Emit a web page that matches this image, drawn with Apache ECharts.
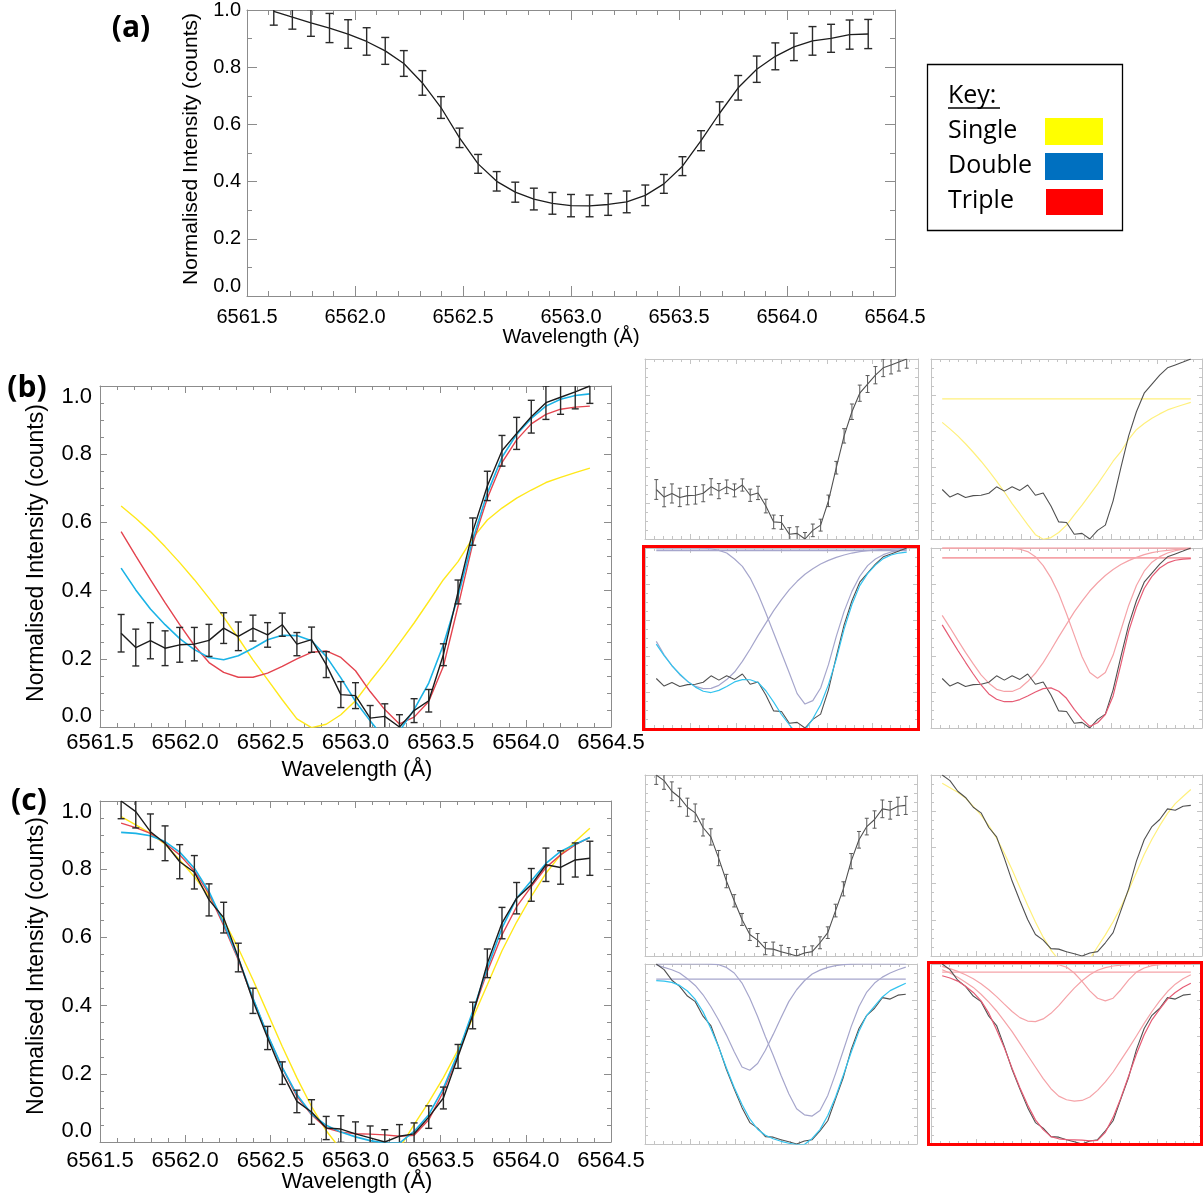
<!DOCTYPE html>
<html><head><meta charset="utf-8">
<script src="https://cdn.jsdelivr.net/npm/echarts@6/dist/echarts.min.js"></script>
<style>html,body{margin:0;padding:0;background:#fff}#c{width:1203px;height:1199px}</style>
</head><body><div id="c"></div><script>
// ---------------- DATA ----------------
const wavelengths = [6561.624, 6561.710, 6561.796, 6561.882, 6561.968, 6562.054, 6562.140, 6562.226, 6562.312, 6562.398, 6562.484, 6562.570, 6562.656, 6562.742, 6562.828, 6562.914, 6563.000, 6563.086, 6563.172, 6563.258, 6563.344, 6563.430, 6563.516, 6563.602, 6563.688, 6563.774, 6563.860, 6563.946, 6564.032, 6564.118, 6564.204, 6564.290, 6564.376];
const xTicks = [6561.5, 6562.0, 6562.5, 6563.0, 6563.5, 6564.0, 6564.5];
const yTicks = [0.0, 0.2, 0.4, 0.6, 0.8, 1.0];

// (a)
const aIntensity = [0.995, 0.975, 0.955, 0.937, 0.916, 0.890, 0.857, 0.813, 0.745, 0.659, 0.553, 0.462, 0.401, 0.363, 0.339, 0.324, 0.316, 0.315, 0.320, 0.329, 0.352, 0.392, 0.454, 0.543, 0.639, 0.728, 0.793, 0.838, 0.871, 0.892, 0.901, 0.914, 0.916];
const aError = [0.048, 0.042, 0.047, 0.051, 0.050, 0.048, 0.047, 0.045, 0.043, 0.038, 0.034, 0.033, 0.034, 0.035, 0.038, 0.038, 0.039, 0.038, 0.038, 0.038, 0.036, 0.033, 0.033, 0.035, 0.040, 0.043, 0.046, 0.047, 0.048, 0.050, 0.049, 0.051, 0.051];

// (b)
const bObserved = [0.275, 0.233, 0.253, 0.231, 0.241, 0.243, 0.254, 0.290, 0.266, 0.290, 0.270, 0.300, 0.243, 0.256, 0.183, 0.095, 0.092, 0.026, 0.031, 0.000, 0.048, 0.077, 0.212, 0.396, 0.573, 0.707, 0.810, 0.861, 0.910, 0.951, 0.967, 0.983, 1.000];
const bError = [0.055, 0.054, 0.053, 0.051, 0.051, 0.049, 0.047, 0.045, 0.042, 0.038, 0.036, 0.034, 0.034, 0.037, 0.038, 0.038, 0.038, 0.037, 0.037, 0.036, 0.035, 0.033, 0.032, 0.035, 0.040, 0.043, 0.045, 0.047, 0.048, 0.049, 0.050, 0.050, 0.051];
const bSingle = [0.648, 0.612, 0.573, 0.529, 0.482, 0.432, 0.378, 0.322, 0.261, 0.197, 0.139, 0.080, 0.024, -0.002, 0.008, 0.036, 0.077, 0.134, 0.188, 0.246, 0.305, 0.368, 0.432, 0.485, 0.554, 0.607, 0.642, 0.671, 0.695, 0.717, 0.732, 0.746, 0.759];
const bDouble = [0.466, 0.402, 0.346, 0.300, 0.259, 0.227, 0.204, 0.197, 0.209, 0.231, 0.256, 0.269, 0.268, 0.253, 0.207, 0.144, 0.075, 0.018, -0.035, -0.012, 0.051, 0.129, 0.241, 0.383, 0.549, 0.686, 0.791, 0.858, 0.905, 0.941, 0.961, 0.972, 0.977];
const bTriple = [0.573, 0.502, 0.432, 0.365, 0.300, 0.239, 0.189, 0.160, 0.146, 0.146, 0.158, 0.178, 0.200, 0.219, 0.223, 0.204, 0.165, 0.104, 0.051, 0.009, 0.029, 0.075, 0.178, 0.354, 0.537, 0.671, 0.775, 0.842, 0.889, 0.917, 0.932, 0.938, 0.941];
const bSingleContinuum = 0.778;
const bDoubleNarrow = [1.000, 1.000, 1.000, 1.000, 1.000, 1.000, 0.999, 0.996, 0.987, 0.972, 0.939, 0.898, 0.833, 0.744, 0.639, 0.528, 0.417, 0.306, 0.191, 0.133, 0.152, 0.222, 0.352, 0.509, 0.648, 0.759, 0.843, 0.902, 0.939, 0.963, 0.978, 0.987, 0.994];
const bDoubleWide = [0.481, 0.407, 0.346, 0.296, 0.259, 0.231, 0.219, 0.220, 0.237, 0.269, 0.311, 0.370, 0.439, 0.513, 0.583, 0.652, 0.713, 0.769, 0.815, 0.854, 0.885, 0.911, 0.931, 0.948, 0.961, 0.972, 0.980, 0.985, 0.989, 0.993, 0.994, 0.996, 0.998];
const bDoubleContinuum = 0.987;
const bTripleNarrow = [1.000, 1.000, 1.000, 1.000, 1.000, 1.000, 1.000, 1.000, 1.000, 0.998, 0.993, 0.980, 0.952, 0.902, 0.834, 0.746, 0.635, 0.516, 0.396, 0.308, 0.276, 0.308, 0.405, 0.543, 0.681, 0.792, 0.871, 0.921, 0.952, 0.972, 0.985, 0.993, 0.996];
const bTripleWide = [0.626, 0.558, 0.488, 0.420, 0.356, 0.295, 0.249, 0.215, 0.203, 0.203, 0.221, 0.258, 0.304, 0.363, 0.433, 0.506, 0.576, 0.645, 0.705, 0.761, 0.807, 0.847, 0.880, 0.908, 0.930, 0.948, 0.963, 0.974, 0.982, 0.987, 0.991, 0.994, 0.996];
const bTripleFlat = 1.0;
const bTripleContinuum = 0.945;

// (c)
const cObserved = [1.000, 0.969, 0.910, 0.876, 0.822, 0.791, 0.710, 0.658, 0.541, 0.414, 0.305, 0.202, 0.119, 0.088, 0.041, 0.038, 0.024, 0.012, 0.000, 0.017, 0.024, 0.073, 0.129, 0.251, 0.371, 0.524, 0.642, 0.715, 0.754, 0.813, 0.805, 0.827, 0.832];
const cError = [0.052, 0.048, 0.052, 0.051, 0.050, 0.049, 0.047, 0.045, 0.042, 0.037, 0.034, 0.033, 0.033, 0.036, 0.034, 0.039, 0.035, 0.035, 0.036, 0.034, 0.032, 0.033, 0.032, 0.035, 0.039, 0.042, 0.046, 0.046, 0.048, 0.049, 0.049, 0.050, 0.050];
const cSingle = [0.954, 0.930, 0.905, 0.873, 0.827, 0.778, 0.720, 0.651, 0.568, 0.476, 0.378, 0.280, 0.188, 0.104, 0.033, -0.022, -0.057, -0.068, -0.062, -0.018, 0.051, 0.117, 0.189, 0.270, 0.363, 0.461, 0.561, 0.645, 0.720, 0.788, 0.842, 0.881, 0.920];
const cDouble = [0.908, 0.905, 0.898, 0.881, 0.850, 0.803, 0.734, 0.642, 0.539, 0.422, 0.314, 0.219, 0.139, 0.082, 0.049, 0.029, 0.015, 0.004, -0.003, -0.003, 0.031, 0.080, 0.158, 0.261, 0.383, 0.510, 0.627, 0.715, 0.766, 0.817, 0.852, 0.873, 0.893];
const cTriple = [0.935, 0.922, 0.905, 0.876, 0.842, 0.795, 0.727, 0.635, 0.534, 0.420, 0.313, 0.217, 0.134, 0.080, 0.041, 0.029, 0.024, 0.023, 0.021, 0.017, 0.020, 0.065, 0.148, 0.256, 0.378, 0.500, 0.607, 0.690, 0.749, 0.805, 0.842, 0.871, 0.893];
const cDoubleBlue = [0.996, 0.981, 0.968, 0.950, 0.918, 0.881, 0.829, 0.764, 0.689, 0.605, 0.512, 0.428, 0.410, 0.447, 0.521, 0.609, 0.702, 0.791, 0.857, 0.907, 0.944, 0.966, 0.981, 0.991, 0.996, 0.999, 1.000, 1.000, 1.000, 1.000, 1.000, 1.000, 1.000];
const cDoubleRed = [1.000, 1.000, 1.000, 1.000, 1.000, 1.000, 1.000, 0.999, 0.996, 0.981, 0.950, 0.894, 0.810, 0.708, 0.596, 0.493, 0.382, 0.279, 0.196, 0.162, 0.155, 0.186, 0.270, 0.391, 0.521, 0.652, 0.764, 0.844, 0.894, 0.927, 0.950, 0.968, 0.983];
const cDoubleContinuum = 0.916;
const cTripleComp1 = [0.987, 0.974, 0.959, 0.940, 0.918, 0.890, 0.857, 0.819, 0.777, 0.736, 0.702, 0.683, 0.680, 0.695, 0.726, 0.769, 0.819, 0.866, 0.907, 0.940, 0.965, 0.980, 0.989, 0.994, 0.996, 0.998, 0.998, 0.998, 0.998, 0.998, 0.998, 0.998, 0.998];
const cTripleComp2 = [1.000, 1.000, 1.000, 1.000, 1.000, 1.000, 1.000, 1.000, 1.000, 1.000, 1.000, 1.000, 1.000, 1.000, 0.999, 0.996, 0.983, 0.950, 0.903, 0.851, 0.810, 0.795, 0.810, 0.857, 0.912, 0.955, 0.978, 0.991, 0.996, 1.000, 1.000, 1.000, 1.000];
const cTripleComp3 = [0.968, 0.950, 0.926, 0.899, 0.870, 0.832, 0.788, 0.739, 0.683, 0.624, 0.559, 0.493, 0.428, 0.363, 0.307, 0.266, 0.246, 0.238, 0.242, 0.261, 0.298, 0.345, 0.400, 0.466, 0.531, 0.600, 0.670, 0.736, 0.795, 0.847, 0.888, 0.918, 0.940];
const cTripleContinuum = 0.955;

const keyLabels = ['Single', 'Double', 'Triple'];

// ---------------- STYLE ----------------
const IDL_FONT = '"Liberation Sans", Arial, Helvetica, sans-serif';
const WORD_FONT = '"Open Sans", "Noto Sans", sans-serif';
const COL = {
  black: '#1c1c1c', bar: '#2a2a2a', yellow: '#FFE81A', cyan: '#1BB3E6', red: '#E4444F',
  sBlack: '#505050', sBar: '#5a5a5a', sYellow: '#FFF07C', sCyan: '#33C3EE', sRed: '#E65B74',
  lav: '#A6A6CC', pink: '#F5A3A8',
  frame: '#8c8c8c', sFrame: '#c4c4c4'
};

const grids = [], xAxes = [], yAxes = [], series = [];

function addPanel(rect, cfg) {
  const gi = grids.length;
  grids.push({left: rect[0], top: rect[1], width: rect[2], height: rect[3], containLabel: false});
  const lc = {color: cfg.frame, width: 1};
  const base = {gridIndex: gi, type: 'value', splitLine: {show: false}, minorSplitLine: {show: false},
    axisLine: {show: true, onZero: false, lineStyle: lc}};
  const xCommon = Object.assign({}, base, {min: xTicks[0], max: xTicks[xTicks.length - 1], interval: 0.5,
    axisTick: {show: true, inside: true, length: cfg.major, lineStyle: lc},
    minorTick: {show: true, splitNumber: 5, length: cfg.minor, lineStyle: lc}});
  const yCommon = Object.assign({}, base, {min: yTicks[0], max: yTicks[yTicks.length - 1], interval: 0.2,
    axisTick: {show: true, inside: true, length: cfg.major, lineStyle: lc},
    minorTick: {show: true, splitNumber: cfg.yMinor, length: cfg.minor, lineStyle: lc}});
  const xi = xAxes.length, yi = yAxes.length;
  xAxes.push(Object.assign({}, xCommon, {position: 'bottom',
    axisLabel: cfg.labels ? {show: true, margin: cfg.xMargin, color: '#000', fontFamily: IDL_FONT, fontSize: cfg.font,
      formatter: v => v.toFixed(1)} : {show: false}}));
  xAxes.push(Object.assign({}, xCommon, {position: 'top', axisLabel: {show: false}}));
  yAxes.push(Object.assign({}, yCommon, {position: 'left',
    axisLabel: cfg.labels ? {show: true, margin: cfg.yMargin, color: '#000', fontFamily: IDL_FONT, fontSize: cfg.font,
      verticalAlignMinLabel: 'bottom', verticalAlignMaxLabel: cfg.maxAlign,
      formatter: v => v.toFixed(1)} : {show: false}}));
  yAxes.push(Object.assign({}, yCommon, {position: 'right', axisLabel: {show: false}}));
  return {x: xi, y: yi};
}

function line(ax, ys, color, width, z) {
  series.push({type: 'line', xAxisIndex: ax.x, yAxisIndex: ax.y, data: wavelengths.map((w, i) => [w, ys[i]]),
    symbol: 'none', showSymbol: false, lineStyle: {color: color, width: width}, clip: true, silent: true,
    animation: false, z: z || 3});
}
function hline(ax, level, color, width) {
  series.push({type: 'line', xAxisIndex: ax.x, yAxisIndex: ax.y,
    data: [[wavelengths[0], level], [wavelengths[wavelengths.length - 1], level]],
    symbol: 'none', lineStyle: {color: color, width: width}, clip: true, silent: true, animation: false, z: 2});
}
function errbars(ax, ys, es, color, width, cap) {
  series.push({type: 'custom', xAxisIndex: ax.x, yAxisIndex: ax.y, clip: true, silent: true, animation: false, z: 4,
    data: wavelengths.map((w, i) => [w, ys[i] - es[i], ys[i] + es[i]]),
    encode: {x: 0, y: [1, 2]},
    renderItem: function (params, api) {
      const x = api.value(0);
      const a = api.coord([x, api.value(1)]), b = api.coord([x, api.value(2)]);
      const st = {stroke: color, lineWidth: width, fill: null};
      return {type: 'group', children: [
        {type: 'line', shape: {x1: a[0], y1: a[1], x2: b[0], y2: b[1]}, style: st},
        {type: 'line', shape: {x1: a[0] - cap, y1: a[1], x2: a[0] + cap, y2: a[1]}, style: st},
        {type: 'line', shape: {x1: b[0] - cap, y1: b[1], x2: b[0] + cap, y2: b[1]}, style: st}
      ]};
    }});
}

const mainA = {frame: COL.frame, major: 10, minor: 5, yMinor: 2, labels: true, font: 20, xMargin: 11, yMargin: 6, maxAlign: 'middle'};
const mainBC = {frame: COL.frame, major: 7, minor: 4, yMinor: 4, labels: true, font: 22, xMargin: 5, yMargin: 8, maxAlign: 'top'};
const small = {frame: COL.sFrame, major: 5, minor: 3, yMinor: 4, labels: false};

// ---- panel (a)
const pA = addPanel([247, 6, 648, 290], mainA);
line(pA, aIntensity, COL.black, 1.3);
errbars(pA, aIntensity, aError, COL.bar, 1.4, 4);

// ---- panel (b) main
const pB = addPanel([100, 386, 511, 341], Object.assign({}, mainBC, {xMargin: 5}));
line(pB, bSingle, COL.yellow, 1.4);
line(pB, bTriple, COL.red, 1.4);
line(pB, bDouble, COL.cyan, 1.6);
line(pB, bObserved, COL.black, 1.4, 5);
errbars(pB, bObserved, bError, COL.bar, 1.4, 3.5);

// ---- panel (c) main
const pC = addPanel([100, 801, 511, 341], Object.assign({}, mainBC, {xMargin: 8}));
line(pC, cSingle, COL.yellow, 1.4);
line(pC, cTriple, COL.red, 1.4);
line(pC, cDouble, COL.cyan, 1.6);
line(pC, cObserved, COL.black, 1.4, 5);
errbars(pC, cObserved, cError, COL.bar, 1.4, 3.5);

// ---- (b) small panels
const bTL = addPanel([645, 359, 273, 180], small);
line(bTL, bObserved, COL.sBlack, 1.1);
errbars(bTL, bObserved, bError, COL.sBar, 1, 2);
const bTR = addPanel([931, 359, 271, 180], small);
hline(bTR, bSingleContinuum, COL.sYellow, 1.2);
line(bTR, bSingle, COL.sYellow, 1.2);
line(bTR, bObserved, COL.sBlack, 1.1);
const bBL = addPanel([645, 548, 273, 180], small);
hline(bBL, bDoubleContinuum, COL.lav, 1.6);
line(bBL, bDoubleNarrow, COL.lav, 1.2);
line(bBL, bDoubleWide, COL.lav, 1.2);
line(bBL, bObserved, COL.sBlack, 1.1);
line(bBL, bDouble, COL.sCyan, 1.2);
const bBR = addPanel([931, 548, 271, 180], small);
hline(bBR, bTripleFlat, COL.pink, 1.6);
hline(bBR, bTripleContinuum, COL.pink, 1.6);
line(bBR, bTripleNarrow, COL.pink, 1.2);
line(bBR, bTripleWide, COL.pink, 1.2);
line(bBR, bObserved, COL.sBlack, 1.1);
line(bBR, bTriple, COL.sRed, 1.2);

// ---- (c) small panels
const cTL = addPanel([645, 775, 272, 181], small);
line(cTL, cObserved, COL.sBlack, 1.1);
errbars(cTL, cObserved, cError, COL.sBar, 1, 2);
const cTR = addPanel([931, 775, 271, 181], small);
line(cTR, cSingle, COL.sYellow, 1.2);
line(cTR, cObserved, COL.sBlack, 1.1);
const cBL = addPanel([645, 964, 272, 180], small);
hline(cBL, cDoubleContinuum, COL.lav, 1.2);
line(cBL, cDoubleBlue, COL.lav, 1.2);
line(cBL, cDoubleRed, COL.lav, 1.2);
line(cBL, cObserved, COL.sBlack, 1.1);
line(cBL, cDouble, COL.sCyan, 1.2);
const cBR = addPanel([931, 964, 271, 180], small);
hline(cBR, cTripleContinuum, COL.pink, 1.2);
line(cBR, cTripleComp1, COL.pink, 1.2);
line(cBR, cTripleComp2, COL.pink, 1.2);
line(cBR, cTripleComp3, COL.pink, 1.2);
line(cBR, cObserved, COL.sBlack, 1.1);
line(cBR, cTriple, COL.sRed, 1.2);

// ---------------- TEXT / DECORATION ----------------
function txt(x, y, s, font, rot, extra) {
  return Object.assign({type: 'text', x: x, y: y, rotation: rot || 0, z: 50, silent: true,
    style: {text: s, font: font, fill: '#000', textAlign: 'center', align: 'center',
      textVerticalAlign: 'middle', verticalAlign: 'middle'}}, extra || {});
}
const YNAME = 'Normalised Intensity (counts)', XNAME = 'Wavelength (\u00C5)';
const graphic = [
  txt(131, 28, '(a)', 'bold 30px ' + WORD_FONT),
  txt(27, 388, '(b)', 'bold 30px ' + WORD_FONT),
  txt(29, 801, '(c)', 'bold 30px ' + WORD_FONT),
  txt(191, 149, YNAME, '21px ' + IDL_FONT, Math.PI / 2),
  txt(37, 553, YNAME, '23px ' + IDL_FONT, Math.PI / 2),
  txt(37, 966, YNAME, '23px ' + IDL_FONT, Math.PI / 2),
  txt(571, 337, XNAME, '20px ' + IDL_FONT),
  txt(357, 770, XNAME, '22px ' + IDL_FONT),
  txt(357, 1182, XNAME, '22px ' + IDL_FONT),
  // red highlight boxes
  {type: 'rect', z: 40, silent: true, shape: {x: 643.5, y: 546.5, width: 275, height: 183}, style: {fill: null, stroke: '#FF0000', lineWidth: 3}},
  {type: 'rect', z: 40, silent: true, shape: {x: 928.5, y: 962.5, width: 273, height: 182}, style: {fill: null, stroke: '#FF0000', lineWidth: 3}},
  // key box
  {type: 'rect', z: 40, silent: true, shape: {x: 927.5, y: 64.5, width: 195, height: 166}, style: {fill: '#fff', stroke: '#000', lineWidth: 1.3}},
  Object.assign(txt(948, 96, 'Key:', '25px ' + WORD_FONT), {}),
  {type: 'line', z: 50, silent: true, shape: {x1: 948, y1: 108, x2: 1000, y2: 108}, style: {stroke: '#000', lineWidth: 1.5}},
  txt(948, 131, keyLabels[0], '25px ' + WORD_FONT),
  txt(948, 166, keyLabels[1], '25px ' + WORD_FONT),
  txt(948, 201, keyLabels[2], '25px ' + WORD_FONT),
  {type: 'rect', z: 45, silent: true, shape: {x: 1045, y: 118, width: 58, height: 27}, style: {fill: '#FFFF00'}},
  {type: 'rect', z: 45, silent: true, shape: {x: 1045, y: 153, width: 58, height: 27}, style: {fill: '#0070C0'}},
  {type: 'rect', z: 45, silent: true, shape: {x: 1046, y: 189, width: 57, height: 26}, style: {fill: '#FF0000'}}
];
// left-align key texts
[12, 14, 15, 16].forEach(i => { graphic[i].style.textAlign = 'left'; graphic[i].style.align = 'left'; });

const chart = echarts.init(document.getElementById('c'), null, {renderer: 'canvas'});
chart.setOption({
  animation: false,
  backgroundColor: '#ffffff',
  grid: grids, xAxis: xAxes, yAxis: yAxes, series: series, graphic: graphic
});
</script></body></html>
